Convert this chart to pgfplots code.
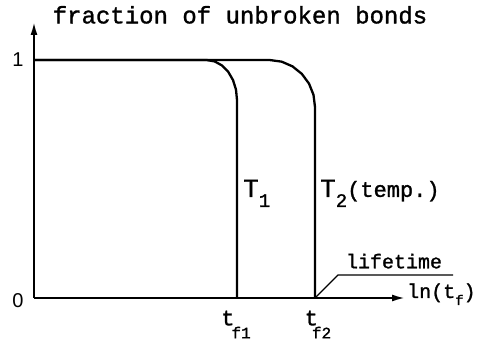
\documentclass[border=0pt]{standalone}
\usepackage{pgfplots}
\pgfplotsset{compat=1.18}
\usetikzlibrary{arrows.meta}
\usepackage{fontspec}
\setmainfont{Liberation Sans}
\newfontfamily\typefont[FakeBold=1.3]{Liberation Mono}
% lowered, text-font subscript
\newcommand{\sub}[2][-9pt]{\raisebox{#1}{\fontsize{19}{20}\selectfont #2}}
\newcommand{\smallsub}[2][-10pt]{\raisebox{#1}{\fontsize{16}{17}\selectfont #2}}

% Step-like survival curves: flat at 1, rounded corner, vertical drop at t_f
\pgfplotstableread{
x y
0 1.0
173 1.0
180.8 0.9941
188 0.9773
194.2 0.9508
199 0.9160
202 0.8756
203 0.8319
203 0.0
}\curveA
\pgfplotstableread{
x y
0 1.0
236 1.0
247.7 0.9933
258.5 0.9735
267.8 0.9420
275 0.9013
279.5 0.8538
281 0.8025
281 0.0
}\curveB

\begin{document}
\begin{tikzpicture}
\begin{axis}[
  scale only axis,
  width=371pt, height=276pt,
  xmin=0, xmax=371, ymin=0, ymax=1.16,
  axis lines=left,
  axis line style={line width=2pt, -{Latex[length=13pt,width=7pt]}},
  xtick=\empty, ytick=\empty,
  clip=false,
]
\addplot[black, line width=2.3pt, line join=round] table[x=x,y=y] {\curveA};
\addplot[black, line width=2.3pt, line join=round] table[x=x,y=y] {\curveB};
\addplot[black, line width=1.3pt] coordinates {(281,0) (304,0.0966) (419,0.0966)};

\node[font=\fontsize{20}{22}\selectfont] at (axis cs:-16,1) {1};
\node[font=\fontsize{20}{22}\selectfont] at (axis cs:-16,-0.01) {0};
\node[font=\typefont\fontsize{24}{26}\selectfont] at (axis cs:206,1.19) {fraction of unbroken bonds};
\node[font=\typefont\fontsize{26}{28}\selectfont, anchor=base west, inner sep=0pt]
  at (axis cs:209,0.425) {T\sub[-10pt]{1}};
\node[font=\typefont\fontsize{26}{28}\selectfont, anchor=base west, inner sep=0pt]
  at (axis cs:286,0.425) {T\sub[-10pt]{2}\fontsize{22}{24}\selectfont(temp.)};
\node[font=\typefont\fontsize{20}{22}\selectfont] at (axis cs:360,0.155) {lifetime};
\node[font=\typefont\fontsize{20}{22}\selectfont, anchor=base west, inner sep=0pt]
  at (axis cs:373,0.0) {ln(t\raisebox{-7pt}{\fontsize{14}{15}\selectfont f})};
\node[font=\typefont\fontsize{22}{24}\selectfont, anchor=base, inner sep=0pt]
  at (axis cs:202,-0.115) {t\kern-3pt\smallsub[-13pt]{f1}};
\node[font=\typefont\fontsize{22}{24}\selectfont, anchor=base, inner sep=0pt]
  at (axis cs:284,-0.115) {t\kern-6pt\smallsub[-13pt]{f2}};
\end{axis}
\pgfresetboundingbox
\path[use as bounding box] (-34pt,-52pt) rectangle (445pt,298pt);
\end{tikzpicture}
\end{document}
